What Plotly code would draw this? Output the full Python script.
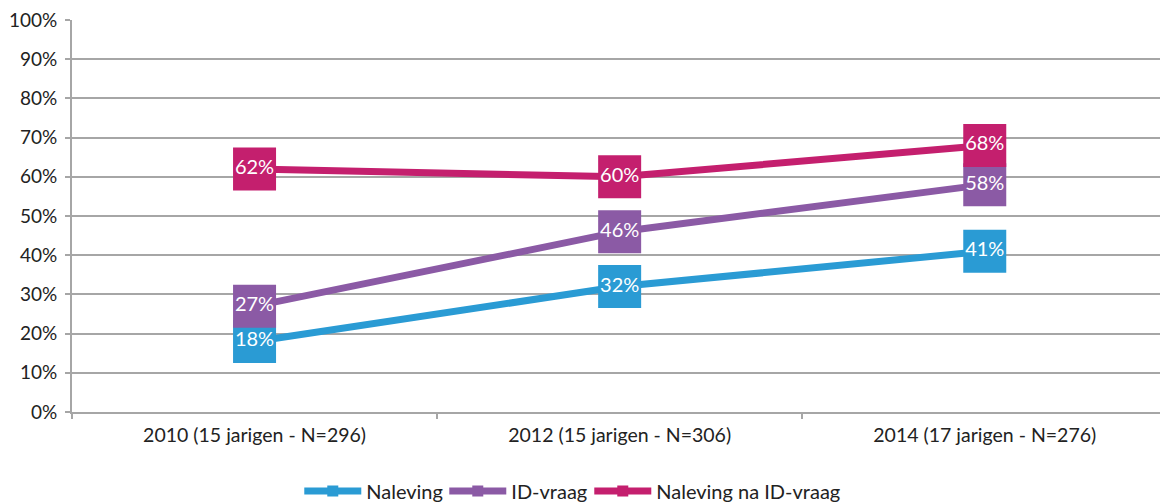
import plotly.graph_objects as go

categories = ['2010 (15 jarigen - N=296)', '2012 (15 jarigen - N=306)', '2014 (17 jarigen - N=276)']
naleving = [18, 32, 41]
id_vraag = [27, 46, 58]
naleving_na_id = [62, 60, 68]

series = [
    ('Naleving', naleving, '#2A9BD4'),
    ('ID-vraag', id_vraag, '#8B5AA5'),
    ('Naleving na ID-vraag', naleving_na_id, '#C41F6E'),
]
legend_widths = [73, 73, 260]

font_family = 'Lato, "Open Sans", sans-serif'

fig = go.Figure()

for name, values, color in series:
    fig.add_trace(
        go.Scatter(
            x=categories,
            y=values,
            mode='lines+markers+text',
            text=[f'{v}%' for v in values],
            textposition='middle center',
            textfont=dict(color='white', size=20, family=font_family),
            line=dict(color=color, width=7),
            marker=dict(symbol='square', size=43, color=color),
            showlegend=False,
            hoverinfo='skip'
        )
    )

# legend entries with small markers
for (name, values, color), lw in zip(series, legend_widths):
    fig.add_trace(
        go.Scatter(
            x=[None],
            y=[None],
            mode='lines+markers',
            name=name,
            legendwidth=lw,
            line=dict(color=color, width=7),
            marker=dict(symbol='square', size=11, color=color),
        )
    )

fig.update_layout(
    width=1160,
    height=504,
    margin=dict(l=72, r=0, t=20, b=92),
    plot_bgcolor='white',
    paper_bgcolor='white',
    font=dict(family=font_family, size=19, color='#222222'),
    legend=dict(
        orientation='h',
        xref='container',
        yref='container',
        x=0.258,
        xanchor='left',
        y=0.026,
        yanchor='middle',
        font=dict(size=20),
        itemwidth=57,
        tracegroupgap=0,
    ),
)

fig.update_xaxes(
    type='category',
    range=[-0.5, 2.48],
    automargin=False,
    showline=True,
    linecolor='#A6A6A6',
    linewidth=2,
    ticks='outside',
    tickson='boundaries',
    ticklen=5,
    tickcolor='#A6A6A6',
    tickwidth=2,
    showgrid=False,
    ticklabelstandoff=5,
    tickfont=dict(size=19.5),
)

fig.update_yaxes(
    range=[0, 100],
    dtick=10,
    ticksuffix='%',
    automargin=False,
    showline=True,
    linecolor='#A6A6A6',
    linewidth=2,
    ticks='outside',
    ticklen=5,
    tickcolor='#A6A6A6',
    tickwidth=2,
    showgrid=True,
    gridcolor='#A6A6A6',
    gridwidth=2,
    zeroline=False,
    ticklabelstandoff=4,
    tickfont=dict(size=19),
)

fig.write_html(
    'out.html',
    config={'displayModeBar': False},
    post_script="document.body.style.margin='0';document.body.style.overflow='hidden';",
)
